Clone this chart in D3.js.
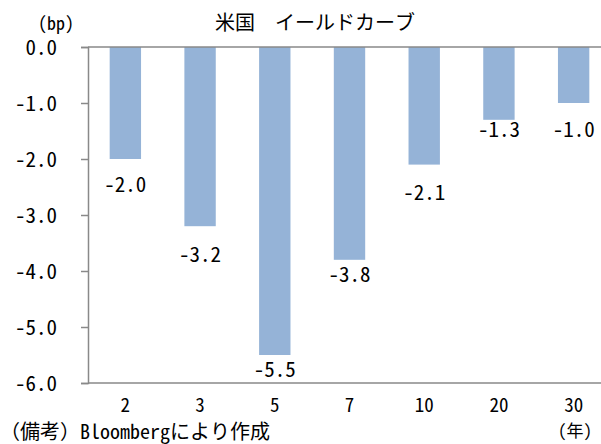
<!doctype html>
<html>
<head>
<meta charset="utf-8">
<script src="https://cdn.jsdelivr.net/npm/d3@7"></script>
<style>
  body { margin: 0; background: #fff; }
  text { font-family: "Noto Sans Mono CJK JP", "Noto Sans CJK JP", "DejaVu Sans Mono", monospace; fill: #000; }
</style>
</head>
<body>
<div id="chart"></div>
<script>
// 年限
var maturities = ["2", "3", "5", "7", "10", "20", "30"];
// 変化幅 (bp)
var changes = [-2.0, -3.2, -5.5, -3.8, -2.1, -1.3, -1.0];
var yTicks = [0, -1, -2, -3, -4, -5, -6];
// ラベルの下方向のずらし (px, 棒の先端から)
var labelDy = [33, 36, 22, 22, 35, 17, 34];

var W = 601, H = 444;
var svg = d3.select("#chart").append("svg")
  .attr("width", W).attr("height", H);

var x = d3.scaleBand().domain(maturities).range([88, 611]).paddingInner(0.58).paddingOuter(0.29);
var y = d3.scaleLinear().domain([-6, 0]).range([383, 47]);

// bars
svg.selectAll("rect.bar")
  .data(changes)
  .enter().append("rect")
  .attr("class", "bar")
  .attr("x", function(d, i) { return x(maturities[i]); })
  .attr("width", x.bandwidth())
  .attr("y", y(0))
  .attr("height", function(d) { return y(d) - y(0); })
  .attr("fill", "#95b3d7");

// value labels
svg.selectAll("text.val")
  .data(changes)
  .enter().append("text")
  .attr("class", "val")
  .attr("x", function(d, i) { return x(maturities[i]) + x.bandwidth() / 2; })
  .attr("y", function(d, i) { return y(d) + labelDy[i]; })
  .attr("text-anchor", "middle")
  .attr("font-size", 21)
  .text(function(d) { return d.toFixed(1); });

// y axis
var yAxis = d3.axisLeft(y).tickValues(yTicks).tickSize(7).tickPadding(24)
  .tickFormat(function(d) { return d.toFixed(1); });
var gy = svg.append("g").attr("transform", "translate(88,0)").call(yAxis);
gy.select(".domain").attr("stroke", "#898989").attr("stroke-width", 1.5);
gy.selectAll(".tick line").attr("stroke", "#898989").attr("stroke-width", 1.5);
gy.selectAll(".tick text").attr("font-size", 21).attr("font-family", null).attr("dy", "0.36em");

// horizontal lines at 0 and bottom
svg.append("line").attr("x1", 88).attr("x2", W).attr("y1", y(0)).attr("y2", y(0))
  .attr("stroke", "#898989").attr("stroke-width", 1.5);
svg.append("line").attr("x1", 88).attr("x2", W).attr("y1", y(-6)).attr("y2", y(-6))
  .attr("stroke", "#898989").attr("stroke-width", 1.5);

// category labels
svg.selectAll("text.cat")
  .data(maturities)
  .enter().append("text")
  .attr("class", "cat")
  .attr("x", function(d) { return x(d) + x.bandwidth() / 2; })
  .attr("y", 412)
  .attr("text-anchor", "middle")
  .attr("font-size", 19)
  .text(function(d) { return d; });

svg.append("text").attr("x", 315).attr("y", 30).attr("text-anchor", "middle")
  .attr("font-size", 20).text("米国\u3000イールドカーブ");
svg.append("text").attr("x", 56).attr("y", 30).attr("text-anchor", "middle")
  .attr("font-size", 18).text("(bp)");
svg.append("text").attr("x", 575).attr("y", 437).attr("text-anchor", "middle")
  .attr("font-size", 17).text("(年)");
svg.append("text").attr("x", 0).attr("y", 439)
  .attr("font-size", 20).text("（備考）Bloombergにより作成");
</script>
</body>
</html>
